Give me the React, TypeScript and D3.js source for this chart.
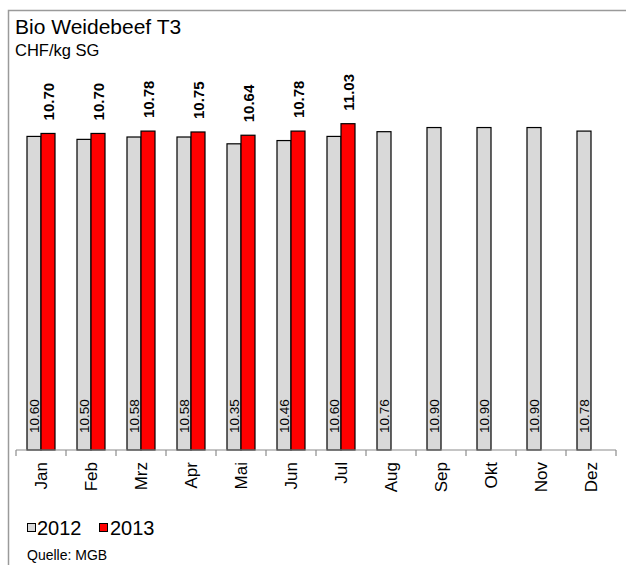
import React from "react";
import * as d3 from "d3";

const months = ["Jan", "Feb", "Mrz", "Apr", "Mai", "Jun", "Jul", "Aug", "Sep", "Okt", "Nov", "Dez"];
const values2012 = [10.6, 10.5, 10.58, 10.58, 10.35, 10.46, 10.6, 10.76, 10.9, 10.9, 10.9, 10.78];
const values2013 = [10.7, 10.7, 10.78, 10.75, 10.64, 10.78, 11.03];
const seriesNames = ["2012", "2013"];

const W = 626;
const H = 565;
const FONT = "'Liberation Sans', Arial, sans-serif";

export default function App() {
  const x = d3.scaleBand<string>().domain(months).range([16, 616]).padding(0);
  const bw = x.bandwidth();
  const x1 = d3.scaleBand<string>().domain(seriesNames).range([11, bw - 11]).padding(0);
  const y = d3.scaleLinear().domain([0, 12]).range([450, 95]);
  const base = y(0);

  return (
    <svg width={W} height={H} style={{ position: "absolute", left: 0, top: 0, fontFamily: FONT }}>
      <rect x={0} y={0} width={W} height={H} fill="#fff" />
      <path d={`M8.5,${H} V10.5 H${W}`} fill="none" stroke="#9a9a9a" strokeWidth={1.5} />
      <text x={15} y={34} fontSize={21} fill="#000">Bio Weidebeef T3</text>
      <text x={15} y={56} fontSize={16.5} fill="#000">CHF/kg SG</text>

      {months.map((m, i) => {
        const v = values2012[i];
        const bx = (x(m) as number) + (x1("2012") as number);
        return (
          <g key={"a" + m}>
            <rect x={bx} y={y(v)} width={x1.bandwidth()} height={base - y(v)} fill="#d9d9d9" stroke="#000" strokeWidth={1.2} />
            <text
              transform={`translate(${bx + x1.bandwidth() / 2 + 5},${base - 17}) rotate(-90)`}
              fontSize={13.5}
              fill="#000"
            >
              {v.toFixed(2)}
            </text>
          </g>
        );
      })}

      {values2013.map((v, i) => {
        const m = months[i];
        const bx = (x(m) as number) + (x1("2013") as number);
        return (
          <g key={"b" + m}>
            <rect x={bx} y={y(v)} width={x1.bandwidth()} height={base - y(v)} fill="#ff0000" stroke="#000" strokeWidth={1.2} />
            <text
              transform={`translate(${bx + x1.bandwidth() / 2 + 5.5},${y(v) - 13}) rotate(-90)`}
              fontSize={15}
              fontWeight="bold"
              fill="#000"
            >
              {v.toFixed(2)}
            </text>
          </g>
        );
      })}

      <line x1={16} x2={616} y1={base} y2={base} stroke="#8c8c8c" strokeWidth={1.2} />
      {months.concat(["__end"]).map((m, i) => {
        const tx = 16 + i * bw;
        return <line key={"t" + i} x1={tx} x2={tx} y1={base} y2={base + 6} stroke="#8c8c8c" strokeWidth={1.2} />;
      })}
      {months.map((m) => {
        const cx = (x(m) as number) + bw / 2;
        return (
          <text
            key={"l" + m}
            transform={`translate(${cx + 5.5},${base + 12}) rotate(-90)`}
            textAnchor="end"
            fontSize={17}
            fill="#000"
          >
            {m}
          </text>
        );
      })}

      <rect x={27.5} y={523.5} width={8} height={8} fill="#d9d9d9" stroke="#000" strokeWidth={1} />
      <text x={37} y={535} fontSize={20} fill="#000">2012</text>
      <rect x={99.5} y={523.5} width={8} height={8} fill="#ff0000" stroke="#000" strokeWidth={1} />
      <text x={110} y={535} fontSize={20} fill="#000">2013</text>
      <text x={27} y={560} fontSize={14} fill="#000">Quelle: MGB</text>
    </svg>
  );
}
